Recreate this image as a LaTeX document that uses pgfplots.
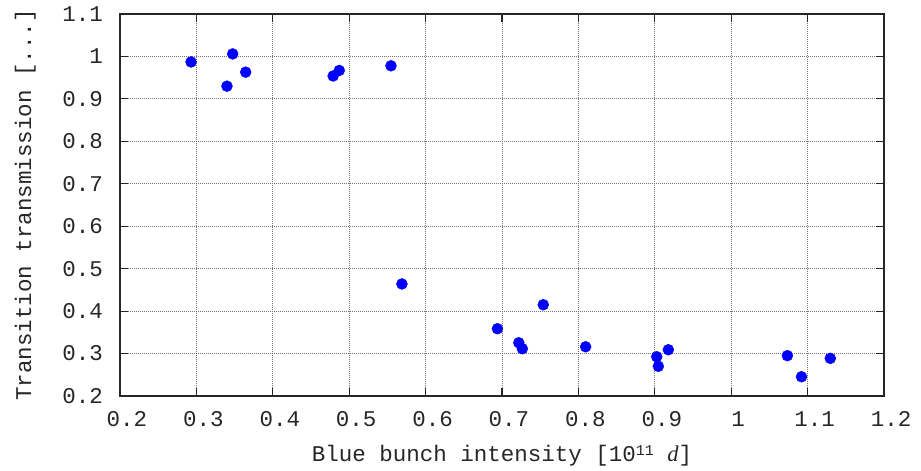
\documentclass[border=0pt]{standalone}
\usepackage{fontspec}
\setmainfont{Liberation Mono}
\newfontfamily\serifit{Liberation Serif}
\usepackage{pgfplots}
\pgfplotsset{compat=1.18}
\begin{document}
\begin{tikzpicture}[font=\fontsize{22.5}{27}\selectfont]
\begin{axis}[
  at={(0,0)}, anchor=south west,
  scale only axis, width=764pt, height=382pt,
  xmin=0.2, xmax=1.2, ymin=0.2, ymax=1.1,
  xtick={0.2,0.3,0.4,0.5,0.6,0.7,0.8,0.9,1,1.1,1.2},
  ytick={0.2,0.3,0.4,0.5,0.6,0.7,0.8,0.9,1,1.1},
  /pgf/number format/assume math mode=true,
  axis line style={line width=1.6pt, black!85},
  tick style={line width=1.2pt, black!85},
  major tick length=8pt,
  tick align=inside,
  xtick pos=both, ytick pos=both,
  grid=major,
  grid style={line width=0.9pt, black!55, dash pattern=on 1pt off 1pt},
  xticklabel style={anchor=center, yshift=-23pt, xshift=7pt, text=black!85},
  yticklabel style={anchor=east, inner sep=0pt, xshift=-17pt, text=black!85},
  xlabel={Blue bunch intensity [10\raisebox{0.5ex}{\fontsize{15}{18}\selectfont 11} {\serifit\itshape d}]},
  ylabel={Transition transmission [...]},
  xlabel style={at={(axis description cs:0.5,-0.157)}, anchor=center, text=black!85},
  ylabel style={at={(axis description cs:-0.124,0.5)}, anchor=center, text=black!85},
]
\addplot[only marks, mark=*, mark size=5.5pt, mark options={draw=blue, fill=blue}] coordinates {
(0.293,0.987)
(0.3475,1.006)
(0.340,0.930)
(0.3645,0.963)
(0.479,0.954)
(0.487,0.967)
(0.5547,0.978)
(0.569,0.464)
(0.694,0.3585)
(0.754,0.415)
(0.722,0.3255)
(0.7266,0.3114)
(0.8095,0.316)
(0.9025,0.2925)
(0.9046,0.270)
(0.9177,0.309)
(1.0735,0.295)
(1.092,0.2454)
(1.1297,0.2887)
};
\end{axis}
\pgfresetboundingbox
\path[use as bounding box] (-120pt,-75pt) rectangle (801pt,396pt);
\end{tikzpicture}
\end{document}
